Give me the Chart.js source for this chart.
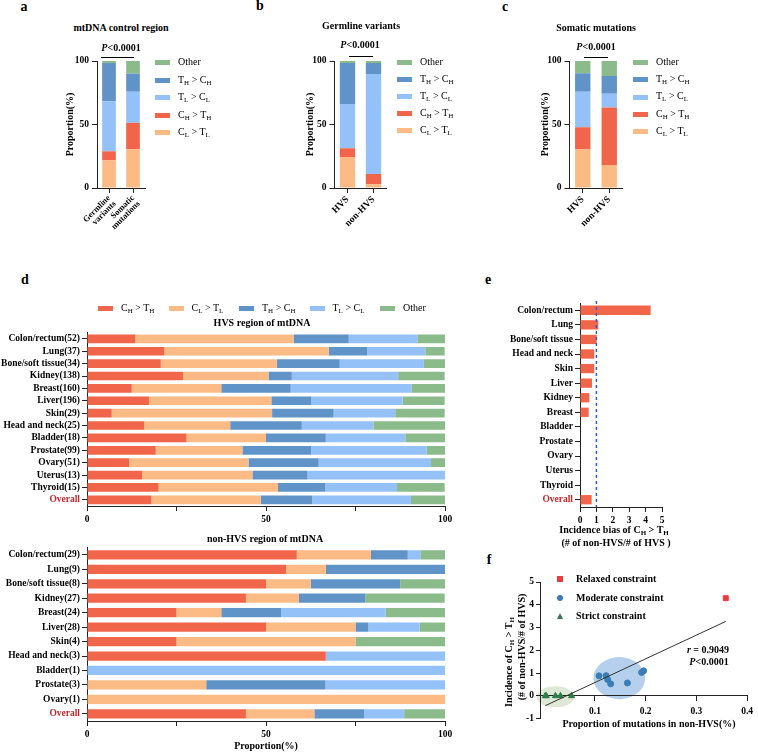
<!DOCTYPE html>
<html>
<head>
<meta charset="utf-8">
<script src="https://cdn.jsdelivr.net/npm/chart.js@4.4.1/dist/chart.umd.min.js"></script>
<style>
  body { margin: 0; background: #fff; }
  #fig { position: relative; width: 758px; height: 753px; overflow: hidden; font-family: 'Liberation Serif', 'Times New Roman', serif; color: #000; }
  canvas { position: absolute; }
  .t { position: absolute; white-space: nowrap; transform: translate(-50%, -50%); font-weight: bold; font-size: 10px; line-height: 1; }
  .lt { font-size: 14px; }
  .rot { transform: translate(-50%, -50%) rotate(-90deg); }
  .bar { position: absolute; height: 0; border-top: 1px solid #000; }
  sub { font-size: 70%; vertical-align: -0.25em; line-height: 0; }
  .leg { position: absolute; font-size: 10px; line-height: 1; white-space: nowrap; transform: translateY(-50%); }
  .leg i { display: inline-block; width: 15px; height: 5px; margin-right: 8px; vertical-align: middle; }
  .mk { position: absolute; transform: translate(-50%, -50%); }
</style>
</head>
<body>
<div id="fig">
  <canvas id="ca" width="250" height="210" style="left:0;top:40px"></canvas>
  <canvas id="cb" width="250" height="210" style="left:250px;top:40px"></canvas>
  <canvas id="cc" width="258" height="210" style="left:500px;top:40px"></canvas>
  <canvas id="cdHvs" width="460" height="205" style="left:0;top:325px"></canvas>
  <canvas id="cdNon" width="460" height="213" style="left:0;top:540px"></canvas>
  <canvas id="ce" width="298" height="240" style="left:460px;top:295px"></canvas>
  <canvas id="cf" width="298" height="183" style="left:460px;top:570px"></canvas>

  <!-- panel letters -->
  <div class="t lt" style="left:24px;top:7px">a</div>
  <div class="t lt" style="left:260px;top:6px">b</div>
  <div class="t lt" style="left:505px;top:7px">c</div>
  <div class="t lt" style="left:25px;top:280px">d</div>
  <div class="t lt" style="left:488px;top:280px">e</div>
  <div class="t lt" style="left:489px;top:560px">f</div>

  <!-- a-c titles -->
  <div class="t" style="left:121px;top:28px">mtDNA control region</div>
  <div class="t" style="left:121px;top:48px"><i>P</i>&lt;0.0001</div>
  <div class="bar" style="left:101px;top:57px;width:33px"></div>
  <div class="t" style="left:361px;top:26px">Germline variants</div>
  <div class="t" style="left:360px;top:45px"><i>P</i>&lt;0.0001</div>
  <div class="bar" style="left:349px;top:56px;width:24px"></div>
  <div class="t" style="left:596px;top:28px">Somatic mutations</div>
  <div class="t" style="left:596px;top:47px"><i>P</i>&lt;0.0001</div>
  <div class="bar" style="left:584px;top:57px;width:24px"></div>

  <!-- d titles -->
  <div class="t" style="left:262px;top:323px">HVS region of mtDNA</div>
  <div class="t" style="left:265px;top:539px">non-HVS region of mtDNA</div>

  <!-- e axis title -->
  <div class="t" style="left:614px;top:530px">Incidence bias of C<sub>H</sub> &gt; T<sub>H</sub></div>
  <div class="t" style="left:616px;top:543px">(# of non-HVS/# of HVS )</div>

  <!-- f texts -->
  <div class="t rot" style="left:509px;top:662px">Incidence of C<sub>H</sub> &gt; T<sub>H</sub></div>
  <div class="t rot" style="left:522px;top:647px">(# of non-HVS/# of HVS)</div>
  <div class="t" style="left:649px;top:724px">Proportion of mutations in non-HVS(%)</div>
  <div class="t" style="left:708px;top:650px"><i>r</i> = 0.9049</div>
  <div class="t" style="left:709px;top:662px"><i>P</i>&lt;0.0001</div>
</div>

<script>
// colours
const cRed = '#f1664a';
const cPeach = '#fcbb84';
const cDark = '#6094c8';
const cLight = '#93c1f8';
const cGreen = '#8bba8b';
const overallRed = '#c0282d';
const axisCol = '#222';

// panels a-c, stacked bottom to top
const namesABC = ['C_L > T_L', 'C_H > T_H', 'T_L > C_L', 'T_H > C_H', 'Other'];
const colorsABC = [cPeach, cRed, cLight, cDark, cGreen];

const catsA = [['Germline', 'variants'], ['Somatic', 'mutations']];
const clTlA = [21.8, 30.5];
const chThA = [7.1, 20.8];
const tlClA = [39.3, 24.5];
const thChA = [30.2, 14.2];
const otherA = [1.6, 10.0];

const catsB = ['HVS', 'non-HVS'];
const clTlB = [24.5, 2.9];
const chThB = [6.8, 8.2];
const tlClB = [34.8, 78.6];
const thChB = [32.3, 8.7];
const otherB = [1.6, 1.6];

const catsC = ['HVS', 'non-HVS'];
const clTlC = [30.3, 18.2];
const chThC = [17.6, 45.2];
const tlClC = [27.9, 10.8];
const thChC = [14.5, 14.0];
const otherC = [9.7, 11.8];

// panel d
const namesD = ['C_H > T_H', 'C_L > T_L', 'T_H > C_H', 'T_L > C_L', 'Other'];
const colorsD = [cRed, cPeach, cDark, cLight, cGreen];

const tissuesHvs = ['Colon/rectum(52)', 'Lung(37)', 'Bone/soft tissue(34)', 'Kidney(138)', 'Breast(160)', 'Liver(196)', 'Skin(29)',
  'Head and neck(25)', 'Bladder(18)', 'Prostate(99)', 'Ovary(51)', 'Uterus(13)', 'Thyroid(15)', 'Overall'];
const chThHvs = [13.5, 21.6, 20.6, 26.8, 12.5, 17.3, 6.9, 16.0, 27.8, 19.2, 11.8, 15.4, 20.0, 18.0];
const clTlHvs = [44.2, 45.9, 32.4, 23.9, 25.0, 34.2, 44.8, 24.0, 22.2, 24.2, 33.3, 30.8, 33.3, 30.5];
const thChHvs = [15.4, 10.8, 17.6, 6.5, 19.4, 11.2, 17.2, 20.0, 16.7, 19.2, 19.6, 15.4, 13.3, 14.4];
const tlClHvs = [19.2, 16.2, 23.5, 29.7, 33.7, 25.5, 17.2, 20.0, 22.2, 32.3, 31.4, 38.4, 20.0, 27.6];
const otherHvs = [7.7, 5.4, 5.9, 13.0, 9.4, 11.7, 13.8, 20.0, 11.1, 5.1, 3.9, 0, 13.3, 9.5];

const tissuesNon = ['Colon/rectum(29)', 'Lung(9)', 'Bone/soft tissue(8)', 'Kidney(27)', 'Breast(24)', 'Liver(28)', 'Skin(4)',
  'Head and neck(3)', 'Bladder(1)', 'Prostate(3)', 'Ovary(1)', 'Overall'];
const chThNon = [58.6, 55.6, 50.0, 44.4, 25.0, 50.0, 25.0, 66.7, 0, 0, 0, 44.4];
const clTlNon = [20.7, 11.1, 12.5, 14.8, 12.5, 25.0, 50.0, 0, 0, 33.3, 100, 19.1];
const thChNon = [10.3, 33.3, 25.0, 18.5, 16.7, 3.6, 0, 0, 0, 33.3, 0, 13.9];
const tlClNon = [3.5, 0, 0, 0, 29.2, 14.3, 0, 33.3, 100, 33.4, 0, 11.2];
const otherNon = [6.9, 0, 12.5, 22.2, 16.6, 7.1, 25.0, 0, 0, 0, 0, 11.4];

const dTicks = [0, 25, 50, 75, 100];
const dTickLabels = ['0', '', '50', '', '100'];

// panel e
const tissuesE = ['Colon/rectum', 'Lung', 'Bone/soft tissue', 'Head and neck', 'Skin', 'Liver', 'Kidney', 'Breast',
  'Bladder', 'Prostate', 'Ovary', 'Uterus', 'Thyroid', 'Overall'];
const biasE = [4.31, 1.12, 1.02, 0.87, 0.87, 0.73, 0.57, 0.53, 0, 0, 0, 0, 0, 0.71];
const biasRef = 1;

// panel f
const relaxedX = [0.358];
const relaxedY = [4.29];
const moderateX = [0.108, 0.122, 0.125, 0.131, 0.164, 0.192, 0.196];
const moderateY = [0.88, 0.89, 0.72, 0.53, 0.57, 1.03, 1.10];
const strictX = [0.002, 0.004, 0.022, 0.032, 0.054];
const strictY = [0, 0, 0, 0, 0];
const fitX = [0.002, 0.358];
const fitY = [-0.43, 3.27];
const fTicksX = [0.1, 0.2, 0.3, 0.4];
const fGroups = ['Relaxed constraint', 'Moderate constraint', 'Strict constraint'];
// shaded groups, in data units
const fEllipses = [
  { cx: 0.022, cy: -0.04, rx: 0.037, ry: 0.46, color: '#dde9d5' },
  { cx: 0.148, cy: 0.78, rx: 0.051, ry: 0.925, color: '#b5d0ec' },
];

Chart.defaults.font.family = "'Liberation Serif', 'Times New Roman', serif";
Chart.defaults.font.weight = 'bold';
Chart.defaults.font.size = 9.5;
Chart.defaults.color = '#000';
Chart.defaults.animation = false;
Chart.defaults.responsive = false;
Chart.defaults.plugins.legend.display = false;
Chart.defaults.plugins.tooltip.enabled = false;

const fig = document.getElementById('fig');
const toHtml = (s) => s.replace(/>/g, '&gt;').replace(/_([A-Z])/g, '<sub>$1</sub>');

function addLegend(names, colors, order, x, y, dx, dy) {
  order.forEach((idx, k) => {
    const d = document.createElement('div');
    d.className = 'leg';
    d.style.left = (x + k * dx) + 'px';
    d.style.top = (y + k * dy) + 'px';
    d.innerHTML = `<i style="background:${colors[idx]}"></i>${toHtml(names[idx])}`;
    fig.appendChild(d);
  });
}

const gridStyle = { drawOnChartArea: false, offset: false, tickLength: 5, color: axisCol };
const borderStyle = { color: axisCol, width: 1 };

// stacked columns for a, b, c
function columnChart(id, cats, series, box) {
  new Chart(document.getElementById(id), {
    type: 'bar',
    data: {
      labels: cats,
      datasets: series.map((s, i) => ({
        label: namesABC[i], data: s, backgroundColor: colorsABC[i],
        barPercentage: box.bar, categoryPercentage: 1,
      })),
    },
    options: {
      layout: { padding: { left: box.padL, right: box.padR, top: box.padT, bottom: 0 } },
      scales: {
        x: {
          stacked: true, grid: gridStyle, border: borderStyle,
          ticks: { minRotation: 45, maxRotation: 45, autoSkip: false, padding: 1, font: box.xFont || {} },
          afterFit: (s) => { s.height = 62; },
        },
        y: {
          stacked: true, min: 0, max: 100, grid: gridStyle, border: borderStyle,
          ticks: { stepSize: 50, padding: 3 },
          title: { display: true, text: 'Proportion(%)', font: { size: 10 }, padding: { top: 4, bottom: 0 } },
          afterFit: (s) => { s.width = box.yW; },
        },
      },
    },
  });
}

columnChart('ca', catsA, [clTlA, chThA, tlClA, thChA, otherA],
  { padL: 60, yW: 37, padR: 105, padT: 21, bar: 0.57, xFont: { size: 8.5, lineHeight: 0.95 } });
columnChart('cb', catsB, [clTlB, chThB, tlClB, thChB, otherB], { padL: 50, yW: 34.5, padR: 113.5, padT: 21, bar: 0.59 });
columnChart('cc', catsC, [clTlC, chThC, tlClC, thChC, otherC], { padL: 35, yW: 34.5, padR: 135.5, padT: 21, bar: 0.58 });

addLegend(namesABC, colorsABC, [4, 3, 2, 1, 0], 155, 62, 0, 17.5);
addLegend(namesABC, colorsABC, [4, 3, 2, 1, 0], 397, 62, 0, 17);
addLegend(namesABC, colorsABC, [4, 3, 2, 1, 0], 633, 62, 0, 17.2);

// stacked rows for d
function rowChart(id, cats, series, box) {
  new Chart(document.getElementById(id), {
    type: 'bar',
    data: {
      labels: cats,
      datasets: series.map((s, i) => ({
        label: namesD[i], data: s, backgroundColor: colorsD[i],
        barPercentage: box.bar, categoryPercentage: 1,
      })),
    },
    options: {
      indexAxis: 'y',
      layout: { padding: { left: 0, right: 15, top: box.padT, bottom: 0 } },
      scales: {
        x: {
          stacked: true, min: 0, max: 100, grid: gridStyle, border: borderStyle,
          afterBuildTicks: (s) => { s.ticks = dTicks.map((v) => ({ value: v })); },
          ticks: { padding: 3, callback: (v) => dTickLabels[dTicks.indexOf(v)] },
          title: { display: box.xTitle, text: 'Proportion(%)', font: { size: 10 }, padding: { top: 0, bottom: 1 } },
          afterFit: (s) => { s.height = box.xH; },
        },
        y: {
          stacked: true, grid: gridStyle, border: borderStyle,
          ticks: { padding: 2, autoSkip: false, color: (c) => (cats[c.index] === 'Overall' ? overallRed : '#000') },
          afterFit: (s) => { s.width = 87; },
        },
      },
    },
  });
}

rowChart('cdHvs', tissuesHvs, [chThHvs, clTlHvs, thChHvs, tlClHvs, otherHvs], { padT: 7.5, xH: 24, bar: 0.7, xTitle: false });
rowChart('cdNon', tissuesNon, [chThNon, clTlNon, thChNon, tlClNon, otherNon], { padT: 6, xH: 32, bar: 0.64, xTitle: true });
addLegend(namesD, colorsD, [0, 1, 2, 3, 4], 98, 308, 70.5, 0);

// panel e
const refLine = {
  id: 'refLine',
  afterDatasetsDraw(chart) {
    const { ctx, chartArea } = chart;
    const x = chart.scales.x.getPixelForValue(biasRef);
    ctx.save();
    ctx.strokeStyle = '#2b5fd4';
    ctx.lineWidth = 1.5;
    ctx.setLineDash([3, 3]);
    ctx.beginPath();
    ctx.moveTo(x, chartArea.top - 2);
    ctx.lineTo(x, chartArea.bottom);
    ctx.stroke();
    ctx.restore();
  },
};

new Chart(document.getElementById('ce'), {
  type: 'bar',
  data: { labels: tissuesE, datasets: [{ data: biasE, backgroundColor: cRed, barPercentage: 0.64, categoryPercentage: 1 }] },
  options: {
    indexAxis: 'y',
    layout: { padding: { left: 0, right: 96, top: 8, bottom: 0 } },
    scales: {
      x: {
        min: 0, max: 5, grid: gridStyle, border: borderStyle,
        ticks: { stepSize: 1, padding: 3 },
        afterFit: (s) => { s.height = 28; },
      },
      y: {
        grid: gridStyle, border: borderStyle,
        ticks: { padding: 2, autoSkip: false, color: (c) => (tissuesE[c.index] === 'Overall' ? overallRed : '#000') },
        afterFit: (s) => { s.width = 120; },
      },
    },
  },
  plugins: [refLine],
});

// panel f
const shading = {
  id: 'shading',
  beforeDraw(chart) {
    const { ctx, scales: { x, y } } = chart;
    fEllipses.forEach((e) => {
      const cx = x.getPixelForValue(e.cx);
      const cy = y.getPixelForValue(e.cy);
      const rx = Math.abs(x.getPixelForValue(e.cx + e.rx) - cx);
      const ry = Math.abs(y.getPixelForValue(e.cy + e.ry) - cy);
      ctx.save();
      ctx.fillStyle = e.color;
      ctx.beginPath();
      ctx.ellipse(cx, cy, rx, ry, 0, 0, Math.PI * 2);
      ctx.fill();
      ctx.restore();
    });
  },
};

const pts = (xs, ys) => xs.map((v, i) => ({ x: v, y: ys[i] }));
const fColors = ['#ee3a3a', '#3a7db6', '#2e7a48'];

new Chart(document.getElementById('cf'), {
  type: 'scatter',
  data: {
    datasets: [
      { type: 'line', data: pts(fitX, fitY), borderColor: '#333', borderWidth: 1, pointRadius: 0, fill: false },
      { label: fGroups[0], data: pts(relaxedX, relaxedY), pointStyle: 'rect', pointRadius: 3.5, backgroundColor: fColors[0], borderColor: fColors[0] },
      { label: fGroups[1], data: pts(moderateX, moderateY), pointStyle: 'circle', pointRadius: 3, backgroundColor: fColors[1], borderColor: fColors[1] },
      { label: fGroups[2], data: pts(strictX, strictY), pointStyle: 'triangle', pointRadius: 3.5, backgroundColor: fColors[2], borderColor: fColors[2] },
    ],
  },
  options: {
    layout: { padding: { left: 0, right: 5.3, top: 12, bottom: 34.3 } },
    scales: {
      x: {
        type: 'linear', min: -0.0084, max: 0.4, position: { y: 0 },
        grid: { drawOnChartArea: false, tickLength: 5, color: axisCol }, border: borderStyle,
        afterBuildTicks: (s) => { s.ticks = fTicksX.map((v) => ({ value: v })); },
        ticks: { padding: 5 },
      },
      y: {
        min: -1, max: 5, grid: { drawOnChartArea: false, tickLength: 4, color: axisCol }, border: borderStyle,
        ticks: { stepSize: 1, padding: 2 },
        afterFit: (s) => { s.width = 80; },
      },
    },
  },
  plugins: [shading],
});

// legend for f
const fMarkers = [
  `width:6px;height:6px;background:${fColors[0]}`,
  `width:6px;height:6px;border-radius:50%;background:${fColors[1]}`,
  `width:0;height:0;border-left:3.5px solid transparent;border-right:3.5px solid transparent;border-bottom:6px solid ${fColors[2]}`,
];
fGroups.forEach((g, i) => {
  const y = 579 + i * 18.5;
  const m = document.createElement('div');
  m.className = 'mk';
  m.style.cssText += `left:560px;top:${y}px;` + fMarkers[i];
  fig.appendChild(m);
  const t = document.createElement('div');
  t.className = 't';
  t.style.cssText = `left:576px;top:${y}px;transform:translateY(-50%)`;
  t.textContent = g;
  fig.appendChild(t);
});
</script>
</body>
</html>
